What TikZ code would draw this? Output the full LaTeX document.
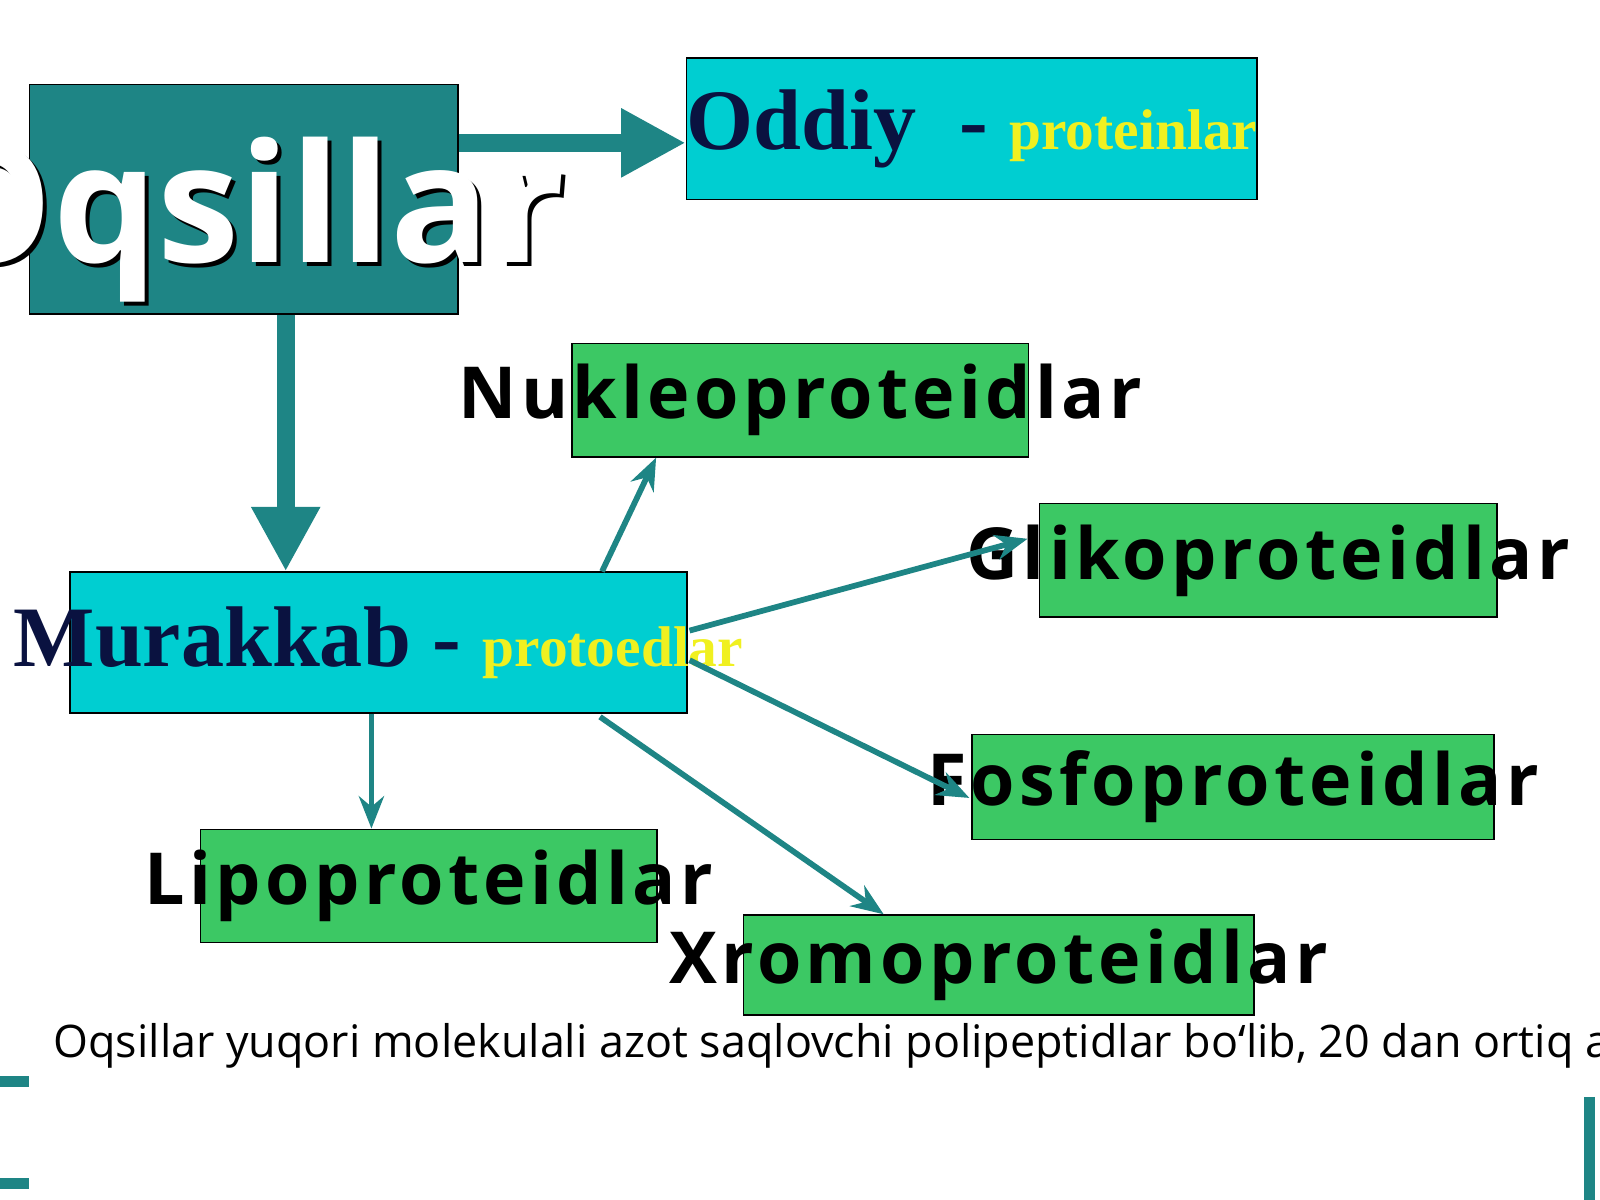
\documentclass[tikz,border=0pt]{standalone}
\usepackage{fontspec}
\setmainfont{Open Sans}
\newfontfamily\serifb{Liberation Serif}
\newfontfamily\spaced[LetterSpace=6]{Open Sans}
\usetikzlibrary{calc,arrows.meta}
\definecolor{tealdark}{HTML}{1E8585}
\definecolor{cyanbox}{HTML}{00CED1}
\definecolor{greenbox}{HTML}{3CC864}
\definecolor{navytext}{HTML}{0A1240}
\definecolor{yellowtext}{HTML}{F0F020}
\tikzstyle{kut} = [rectangle, draw=black, anchor=north west, inner sep=0pt]
\tikzstyle{yashil} = [kut, fill=greenbox]
\tikzstyle{kok} = [kut, fill=cyanbox]
\tikzstyle{ulanish} = [draw=tealdark, line width=1.6pt, -{Stealth[length=9pt,width=7pt]}]
\tikzstyle{qalin} = [draw=tealdark, line width=5pt, -{Triangle[length=18pt,width=18pt]}]
\begin{document}
\begin{tikzpicture}[x=0.01cm, y=-0.01cm]
        \useasboundingbox (0,0) rectangle (1568,1176);

        \node (Q) [kut, fill=tealdark, minimum width=4.2cm, minimum height=2.25cm] at (28,82) {};
        \node () [text=black, font=\bfseries\fontsize{46}{50}\selectfont] at ($(Q.center)+(4,24)$) {Oqsillar};
        \node () [text=white, font=\bfseries\fontsize{46}{50}\selectfont] at ($(Q.center)+(0,20)$) {Oqsillar};

        \node (D) [kok, minimum width=5.59cm, minimum height=1.39cm] at (672,56) {};
        \node () at (D.center) {\serifb\bfseries\color{navytext}\fontsize{24}{28}\selectfont Oddiy \ - {\color{yellowtext}\fontsize{16}{20}\selectfont proteinlar}};

        \node (M) [kok, minimum width=6.04cm, minimum height=1.38cm] at (68,560) {};
        \node () at (M.center) {\serifb\bfseries\color{navytext}\fontsize{24}{28}\selectfont Murakkab - {\color{yellowtext}\fontsize{16}{20}\selectfont protoedlar}};

        \node (N) [yashil, minimum width=4.47cm, minimum height=1.11cm] at (560,336) {};
        \node () at (N.center) {\spaced\bfseries\fontsize{20}{24}\selectfont Nukleoproteidlar};
        \node (G) [yashil, minimum width=4.48cm, minimum height=1.11cm] at (1018,493) {};
        \node () at (G.center) {\spaced\bfseries\fontsize{20}{24}\selectfont Glikoproteidlar};
        \node (F) [yashil, minimum width=5.11cm, minimum height=1.03cm] at (952,719) {};
        \node () at (F.center) {\spaced\bfseries\fontsize{20}{24}\selectfont Fosfoproteidlar};
        \node (L) [yashil, minimum width=4.47cm, minimum height=1.11cm] at (196,812) {};
        \node () at (L.center) {\spaced\bfseries\fontsize{20}{24}\selectfont Lipoproteidlar};
        \node (X) [yashil, minimum width=5.0cm, minimum height=0.98cm] at (728,896) {};
        \node () at (X.center) {\spaced\bfseries\fontsize{20}{24}\selectfont Xromoproteidlar};

        \node (izoh) [anchor=west, font=\fontsize{12.5}{15}\selectfont] at (40,1025) {Oqsillar yuqori molekulali azot saqlovchi polipeptidlar bo‘lib, 20 dan ortiq aminokislotalardan tashkil topgan.};

        \draw [qalin] (Q.east |- 0,140) -- (D.west |- 0,140);
        \draw [qalin] (Q.south -| 280,0) -- (M.north -| 280,0);

        \draw [ulanish] ($(M.north west)+(522,0)$) -- ($(N.south west)+(83,0)$);
        \draw [ulanish] ($(M.north east)+(2,58)$) -- ($(G.north west)+(-11,35)$);
        \draw [ulanish] ($(M.north east)+(2,87)$) -- ($(F.north west)+(-2,63)$);
        \draw [ulanish] ($(M.south west)+(520,3)$) -- ($(X.north west)+(138,0)$);
        \draw [ulanish] (M.south -| 364,0) -- (L.north -| 364,0);

        % pastki chiziqlar
        \draw [tealdark, line width=3pt] (0,1060) -- (28,1060);
        \draw [tealdark, line width=3pt] (0,1160) -- (28,1160);
        \draw [tealdark, line width=3pt] (1558,1075) -- (1558,1176);
\end{tikzpicture}
\end{document}
